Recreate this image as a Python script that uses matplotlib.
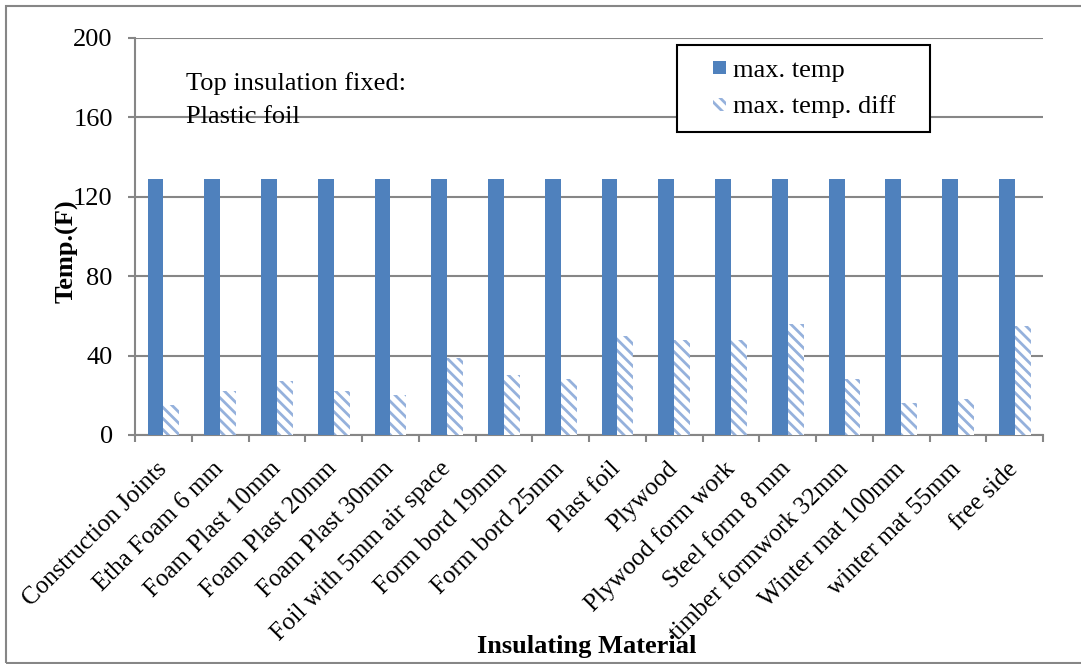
import matplotlib.pyplot as plt
import numpy as np
from matplotlib.patches import Rectangle
from matplotlib.legend_handler import HandlerPatch
from matplotlib.transforms import ScaledTranslation

plt.rcParams["font.family"] = ["Liberation Serif", "DejaVu Serif"]
plt.rcParams["hatch.linewidth"] = 2.0

materials = [
    "Construction Joints", "Etha Foam 6 mm", "Foam Plast 10mm", "Foam Plast 20mm",
    "Foam Plast 30mm", "Foil with 5mm air space", "Form bord 19mm", "Form bord 25mm",
    "Plast foil", "Plywood", "Plywood form work", "Steel form 8 mm",
    "timber formwork 32mm", "Winter mat 100mm", "winter mat 55mm", "free side",
]
max_temp = [129, 129, 129, 129, 129, 129, 129, 129, 129, 129, 129, 129, 129, 129, 129, 129]
max_temp_diff = [15, 22, 27, 22, 20, 39, 30, 28, 50, 48, 48, 56, 28, 16, 18, 55]

fig = plt.figure(figsize=(10.81, 6.64), dpi=100)
ax = fig.add_axes([0.1249, 0.3449, 0.8401, 0.5979])

x = np.arange(len(materials))
w = 0.28
b1 = ax.bar(x - w / 2, max_temp, w, color="#4F81BD", label="max. temp", zorder=3)
b2 = ax.bar(x + w / 2, max_temp_diff, w, color="white", edgecolor="#95B1DC",
            hatch="\\\\\\", linewidth=0, label="max. temp. diff", zorder=3)

ax.set_xlim(-0.5, len(materials) - 0.5)
ax.set_ylim(0, 200)
ax.set_yticks([0, 40, 80, 120, 160, 200])
ax.yaxis.grid(True, color="#868686", linewidth=1.5, zorder=0)
ax.set_axisbelow(True)

ax.set_xticks(x)
ax.set_xticklabels(materials, rotation=45, ha="right", va="center",
                   rotation_mode="anchor", fontsize=18)
shift = ScaledTranslation(-3 / 100, 0, fig.dpi_scale_trans)
for lbl in ax.get_xticklabels():
    lbl.set_transform(lbl.get_transform() + shift)
ax.set_xticks(np.arange(len(materials) + 1) - 0.5, minor=True)
ax.tick_params(axis="x", which="major", length=0, pad=22)
ax.tick_params(axis="x", which="minor", length=5, width=1.5, color="#868686")
ax.tick_params(axis="y", length=5, width=1.5, color="#868686", labelsize=19, pad=11)

for s in ["top", "right"]:
    ax.spines[s].set_visible(False)
for s in ["left", "bottom"]:
    ax.spines[s].set_color("#868686")
    ax.spines[s].set_linewidth(1.5)

ax.set_ylabel("Temp.(F)", fontsize=19, fontweight="bold")
ax.yaxis.set_label_coords(-0.062, 0.462)
fig.text(0.543, 0.026, "Insulating Material", fontsize=19, fontweight="bold",
         ha="center", va="center")

ax.text(0.056, 0.915, "Top insulation fixed:\nPlastic foil", transform=ax.transAxes,
        fontsize=19, va="top", ha="left", linespacing=1.65)


def small_square(legend, orig_handle, xdescent, ydescent, width, height, fontsize):
    s = 0.5 * fontsize
    return Rectangle((width - s - xdescent, (height - s) / 2 - ydescent), s, s)


leg = ax.legend(handles=[b1.patches[0], b2.patches[0]],
                labels=["max. temp", "max. temp. diff"],
                loc="upper left", bbox_to_anchor=(0.597, 0.75, 0.2786, 0.232),
                mode="expand", fontsize=19,
                frameon=True, fancybox=False, edgecolor="black", framealpha=1,
                handlelength=1.35, handleheight=0.7, borderpad=0.5, labelspacing=0.5,
                borderaxespad=0, handletextpad=0.25,
                handler_map={Rectangle: HandlerPatch(patch_func=small_square)})
leg.get_frame().set_linewidth(1.5)
leg.set_zorder(5)

fig.patches.append(Rectangle((6 / 1081, 1.5 / 664), 1.1, 1 - 7.5 / 664,
                             transform=fig.transFigure, fill=False,
                             edgecolor="#868686", linewidth=1.5))

fig.savefig("out.png", dpi=100)
